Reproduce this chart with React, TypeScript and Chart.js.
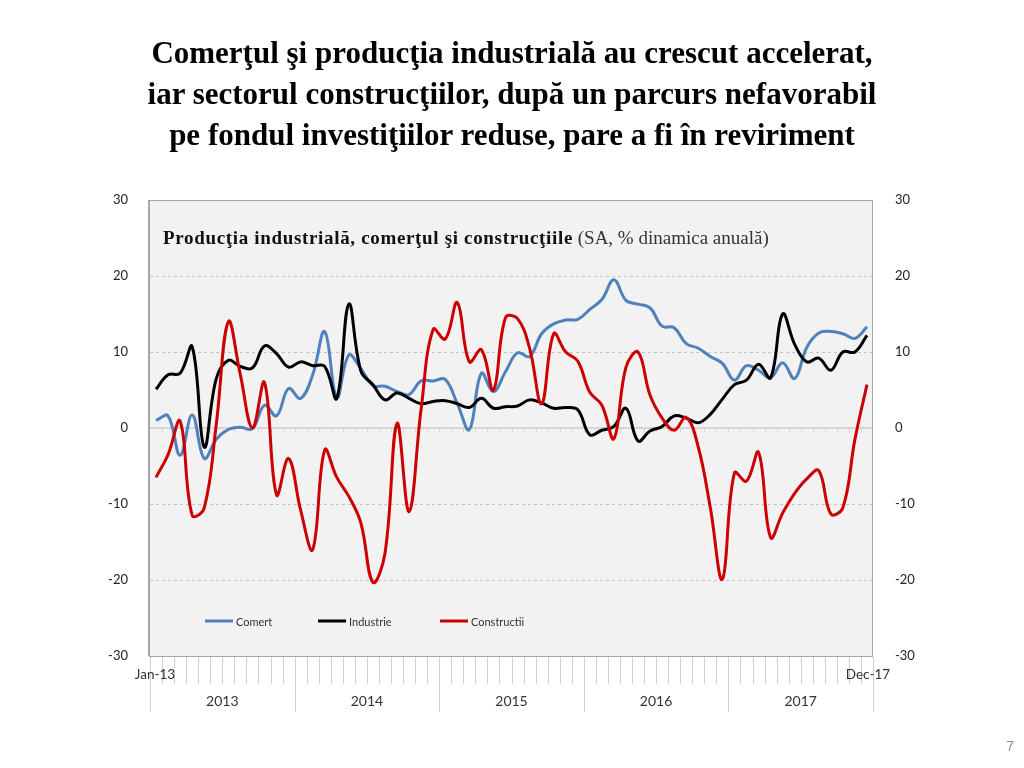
import React, { useEffect, useRef } from "react";
import { Chart, registerables } from "chart.js";

Chart.register(...registerables);

const monthNames = ["Jan", "Feb", "Mar", "Apr", "May", "Jun", "Jul", "Aug", "Sep", "Oct", "Nov", "Dec"];
const years = ["2013", "2014", "2015", "2016", "2017"];
const categories: string[] = [];
years.forEach((y) => monthNames.forEach((m) => categories.push(`${m}-${y.slice(2)}`)));

const comert = [
  1.0, 1.6, -3.6, 1.7, -4.0, -1.5, -0.2, 0.1, -0.1, 3.0,
  1.6, 5.2, 3.9, 7.0, 12.7, 4.0, 9.6, 7.8, 5.6, 5.5,
  4.8, 4.4, 6.2, 6.2, 6.4, 3.2, -0.2, 7.2, 4.8, 7.4,
  9.9, 9.4, 12.4, 13.7, 14.2, 14.3, 15.6, 16.9, 19.5, 16.8,
  16.3, 15.8, 13.4, 13.2, 11.1, 10.5, 9.4, 8.5, 6.3, 8.2,
  7.6, 6.6, 8.6, 6.5, 10.6, 12.5, 12.7, 12.4, 11.8, 13.3,
];
const industrie = [
  5.1, 7.0, 7.2, 10.7, -2.5, 6.5, 8.9, 8.1, 7.9, 10.8,
  9.8, 8.0, 8.7, 8.2, 8.1, 3.9, 16.3, 7.5, 5.7, 3.7,
  4.6, 3.9, 3.2, 3.5, 3.6, 3.2, 2.7, 3.9, 2.6, 2.8,
  2.9, 3.7, 3.3, 2.6, 2.7, 2.4, -0.9, -0.3, 0.2, 2.6,
  -1.7, -0.4, 0.2, 1.6, 1.3, 0.7, 1.8, 3.8, 5.7, 6.3,
  8.4, 6.6, 15.0, 11.0, 8.7, 9.2, 7.6, 10.0, 10.0, 12.2,
];
const constructii = [
  -6.5, -3.5, 0.9, -11.5, -10.5, 0.5, 14.0, 7.0, 0.0, 6.0,
  -8.8, -4.0, -10.8, -16.0, -2.9, -6.5, -9.0, -12.5, -20.3, -16.5,
  0.6, -11.0, 2.5, 13.0, 11.7, 16.5, 8.7, 10.3, 5.0, 14.5,
  14.4, 10.5, 3.2, 12.4, 10.0, 8.8, 4.7, 3.0, -1.4, 8.0,
  10.0, 4.3, 1.3, -0.3, 1.4, -2.5, -10.5, -19.9, -5.9, -7.0,
  -3.2, -14.4, -11.2, -8.6, -6.7, -5.6, -11.3, -10.5, -1.5, 5.7,
];

const seriesNames = ["Comert", "Industrie", "Constructii"];
const seriesColors = ["#4f81bd", "#000000", "#cc0000"];
const yTicks = [-30, -20, -10, 0, 10, 20, 30];
const firstLabel = "Jan-13";
const lastLabel = "Dec-17";

const titleLines = [
  "Comerţul şi producţia industrială au crescut accelerat,",
  "iar sectorul construcţiilor, după un parcurs nefavorabil",
  "pe fondul investiţiilor reduse, pare a fi în reviriment",
];
const innerTitleBold = "Producţia industrială, comerţul şi construcţiile";
const innerTitleNormal = " (SA, % dinamica anuală)";
const pageNumber = "7";

const AXIS_FONT = "Lato, 'Liberation Sans', sans-serif";
const INNER_FONT = "'Liberation Serif', serif";

function fitSpacing(ctx: CanvasRenderingContext2D, text: string, target: number) {
  (ctx as any).letterSpacing = "0px";
  const w = ctx.measureText(text).width;
  const sp = Math.max(0, Math.min(2, (target - w) / text.length));
  (ctx as any).letterSpacing = `${sp}px`;
  return ctx.measureText(text).width;
}

const decorPlugin = {
  id: "decor",
  beforeDraw(chart: any) {
    const { ctx, chartArea: a } = chart;
    ctx.save();
    ctx.fillStyle = "#f2f2f2";
    ctx.fillRect(a.left, a.top, a.right - a.left, a.bottom - a.top);
    const ys = chart.scales.y;
    ctx.strokeStyle = "#c4c4c4";
    ctx.lineWidth = 1;
    ctx.setLineDash([3, 3]);
    yTicks.forEach((v) => {
      if (v === 0 || v === yTicks[0] || v === yTicks[yTicks.length - 1]) return;
      const y = Math.round(ys.getPixelForValue(v)) + 0.5;
      ctx.beginPath();
      ctx.moveTo(a.left, y);
      ctx.lineTo(a.right, y);
      ctx.stroke();
    });
    ctx.setLineDash([]);
    const xs = chart.scales.x;
    const n = categories.length;
    const p0 = xs.getPixelForValue(0);
    const step = (xs.getPixelForValue(n - 1) - p0) / (n - 1);
    const y0 = ys.getPixelForValue(0);
    ctx.strokeStyle = "#d6d6d6";
    ctx.lineWidth = 2;
    ctx.beginPath();
    ctx.moveTo(a.left, y0);
    ctx.lineTo(a.right, y0);
    ctx.stroke();
    ctx.lineWidth = 1;
    for (let k = 1; k < n; k++) {
      const bx = Math.round(p0 + (k - 0.5) * step) + 0.5;
      ctx.beginPath();
      ctx.moveTo(bx, y0);
      ctx.lineTo(bx, y0 + 5);
      ctx.stroke();
    }
    ctx.restore();
  },
  afterDraw(chart: any) {
    const { ctx, chartArea: a } = chart;
    const xs = chart.scales.x;
    const n = categories.length;
    const p0 = xs.getPixelForValue(0);
    const step = (xs.getPixelForValue(n - 1) - p0) / (n - 1);
    ctx.save();
    ctx.strokeStyle = "#a6a6a6";
    ctx.lineWidth = 1;
    ctx.strokeRect(a.left - 0.5, a.top + 0.5, a.right - a.left, a.bottom - a.top);
    ctx.fillStyle = "#a6a6a6";
    ctx.fillRect(a.left - 2, a.top, 1.5, a.bottom - a.top);
    ctx.strokeStyle = "#d0d0d0";
    for (let k = 0; k <= n; k++) {
      const bx = Math.round(p0 + (k - 0.5) * step) + 0.5;
      const isYear = k % 12 === 0;
      ctx.beginPath();
      ctx.moveTo(bx, a.bottom + 1);
      ctx.lineTo(bx, a.bottom + (isYear ? 56 : 28));
      ctx.stroke();
    }
    ctx.fillStyle = "#333333";
    ctx.font = `13.5px ${AXIS_FONT}`;
    ctx.textAlign = "center";
    ctx.textBaseline = "middle";
    ctx.fillText(firstLabel, xs.getPixelForValue(0) - 1, a.bottom + 19);
    ctx.fillText(lastLabel, xs.getPixelForValue(n - 1) + 1, a.bottom + 19);
    ctx.font = `14px ${AXIS_FONT}`;
    years.forEach((yr, i) => {
      const cx = p0 + (i * 12 + 5.5) * step;
      ctx.fillText(yr, cx, a.bottom + 45);
    });
    ctx.font = `11px ${AXIS_FONT}`;
    ctx.textAlign = "left";
    const legendX = [55, 168, 290];
    const ly = a.bottom - 35;
    seriesNames.forEach((name, i) => {
      const lx = a.left + legendX[i];
      ctx.strokeStyle = seriesColors[i];
      ctx.lineWidth = 3;
      ctx.beginPath();
      ctx.moveTo(lx, ly);
      ctx.lineTo(lx + 28, ly);
      ctx.stroke();
      ctx.fillStyle = "#333333";
      ctx.fillText(name, lx + 31, ly + 1);
    });
    // inner title
    ctx.textBaseline = "alphabetic";
    const tx = a.left + 13;
    const ty = a.top + 44;
    ctx.fillStyle = "#111111";
    ctx.font = `bold 19px ${INNER_FONT}`;
    const wb = fitSpacing(ctx, innerTitleBold, 410);
    ctx.fillText(innerTitleBold, tx, ty);
    ctx.fillStyle = "#333333";
    ctx.font = `19px ${INNER_FONT}`;
    fitSpacing(ctx, innerTitleNormal, 191);
    ctx.fillText(innerTitleNormal, tx + wb, ty);
    (ctx as any).letterSpacing = "0px";
    ctx.restore();
  },
};

export default function App() {
  const ref = useRef<HTMLCanvasElement | null>(null);
  useEffect(() => {
    if (!ref.current) return;
    const datasets = [comert, industrie, constructii].map((d, i) => ({
      label: seriesNames[i],
      data: d,
      borderColor: seriesColors[i],
      backgroundColor: seriesColors[i],
      borderWidth: 3,
      pointRadius: 0,
      tension: 0.4,
      yAxisID: "y",
      order: 2 - i,
    }));
    const chart = new Chart(ref.current, {
      type: "line",
      data: { labels: categories, datasets },
      options: {
        responsive: false,
        animation: false,
        layout: { padding: { top: 200, bottom: 112, left: 0, right: 0 } },
        plugins: { legend: { display: false }, tooltip: { enabled: false } },
        scales: {
          x: { type: "category", offset: true, display: false },
          y: {
            position: "left",
            min: -30,
            max: 30,
            ticks: { stepSize: 10, padding: 14, color: "#222", font: { family: AXIS_FONT, size: 13 } },
            grid: { display: false },
            border: { display: false },
            afterFit: (s: any) => { s.width = 150; },
          },
          y2: {
            position: "right",
            min: -30,
            max: 30,
            ticks: { stepSize: 10, padding: 14, color: "#222", font: { family: AXIS_FONT, size: 13 } },
            grid: { display: false },
            border: { display: false },
            afterFit: (s: any) => { s.width = 151; },
          },
        },
      },
      plugins: [decorPlugin],
    });
    return () => chart.destroy();
  }, []);

  return (
    <div style={{ position: "fixed", left: 0, top: 0, width: 1024, height: 768, background: "#fff", overflow: "hidden" }}>
      <canvas ref={ref} width={1024} height={768} style={{ position: "absolute", left: 0, top: 0 }} />
      <div
        style={{
          position: "absolute",
          left: 0,
          top: 32,
          width: 1024,
          textAlign: "center",
          fontFamily: "'Liberation Serif', serif",
          fontWeight: "bold",
          fontSize: 31,
          lineHeight: "41px",
          color: "#000",
        }}
      >
        {titleLines.map((t, i) => (
          <div key={i}>{t}</div>
        ))}
      </div>
      <div
        style={{
          position: "absolute",
          left: 990,
          top: 738,
          width: 24,
          textAlign: "right",
          fontFamily: "'Liberation Sans', sans-serif",
          fontSize: 14,
          color: "#8c8c8c",
        }}
      >
        {pageNumber}
      </div>
    </div>
  );
}
